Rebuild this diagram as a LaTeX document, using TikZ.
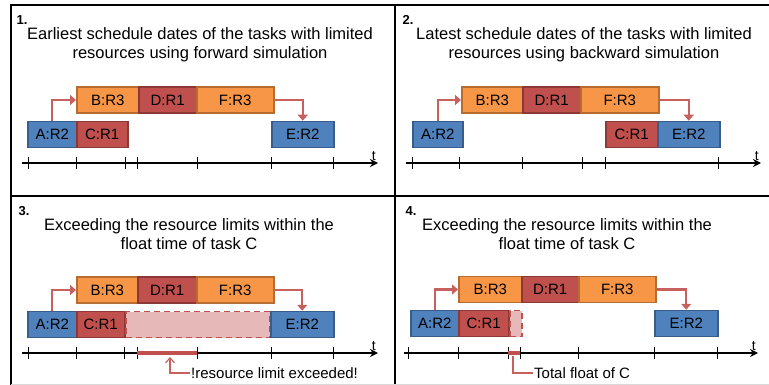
\documentclass[tikz,border=0pt]{standalone}
\usepackage{fontspec}
\setmainfont{Liberation Sans}
\usetikzlibrary{arrows.meta}

\definecolor{taskblue}{HTML}{4F81BD}
\definecolor{taskblueline}{HTML}{385D8A}
\definecolor{taskorange}{HTML}{F79646}
\definecolor{taskorangeline}{HTML}{B66D31}
\definecolor{taskred}{HTML}{C0504D}
\definecolor{taskredline}{HTML}{8C3836}
\definecolor{floatpink}{HTML}{E6B9B8}
\definecolor{linkred}{HTML}{C8605D}

\tikzset{
  task/.style={draw, line width=1.5pt, minimum height=26pt, inner sep=0pt, anchor=west,
    font=\fontsize{15}{17}\selectfont},
  blue task/.style={task, fill=taskblue, draw=taskblueline},
  orange task/.style={task, fill=taskorange, draw=taskorangeline},
  red task/.style={task, fill=taskred, draw=taskredline},
  float task/.style={task, fill=floatpink, draw=taskred, dashed, dash pattern=on 6pt off 4pt},
  link/.style={draw=linkred, line width=2.2pt, -{Triangle[length=6pt,width=10pt]}},
  axis/.style={line width=1.6pt, -{Stealth[length=8pt,width=8pt]}},
  tick/.style={line width=1pt},
  bar/.style={draw=taskred, line width=4.5pt},
  callout/.style={draw=linkred, line width=1.2pt},
  title/.style={align=center, font=\fontsize{16.5}{19}\selectfont},
  num/.style={anchor=west, font=\bfseries\fontsize{13}{15}\selectfont},
  note/.style={anchor=west, inner sep=1pt, font=\fontsize{15}{17}\selectfont},
  tlabel/.style={above left=-2pt, font=\fontsize{14}{16}\selectfont},
  frame/.style={line width=2pt}
}

\begin{document}
\begin{tikzpicture}[x=1pt, y=-1pt]
  \useasboundingbox (0,0) rectangle (769,385);

  % Frame
  \draw[frame] (11,385) -- (11,5) -- (769,5);
  \draw[frame] (395,5) -- (395,385);
  \draw[frame] (11,196) -- (769,196);
  \draw[black!15, line width=1pt] (11,384) -- (769,384);

  % Panel 1
  \node (N1) at (13,20) [num] {1.};
  \node (T1) at (200,44.5) [title] {Earliest schedule dates of the tasks with limited\\resources using forward simulation};
  \node (B1) at (76,100) [orange task, minimum width=62pt] {B:R3};
  \node (D1) at (138,100) [red task, minimum width=58pt] {D:R1};
  \node (F1) at (196,100) [orange task, minimum width=77pt] {F:R3};
  \node (A1) at (27,134.5) [blue task, minimum width=49pt] {A:R2};
  \node (C1) at (76,134.5) [red task, minimum width=51pt] {C:R1};
  \node (E1) at (271,134.5) [blue task, minimum width=62pt] {E:R2};
  \draw[link] (A1.north) |- (B1.west);
  \draw[link] (F1.east) -| (E1.north);
  \coordinate (s1) at (22,163);
  \coordinate (t1) at (378,163);
  \draw[axis] (s1) -- (t1) node[tlabel] {t};
  \foreach \x in {28,76,125,137,197,271,333}
    \draw[tick] (\x,157) -- (\x,169);

  % Panel 2
  \node (N2) at (399,20) [num] {2.};
  \node (T2) at (584,44.5) [title] {Latest schedule dates of the tasks with limited\\resources using backward simulation};
  \node (B2) at (461,100) [orange task, minimum width=61pt] {B:R3};
  \node (D2) at (522,100) [red task, minimum width=58pt] {D:R1};
  \node (F2) at (580,100) [orange task, minimum width=78pt] {F:R3};
  \node (A2) at (412,134.5) [blue task, minimum width=50pt] {A:R2};
  \node (C2) at (605,134.5) [red task, minimum width=52pt] {C:R1};
  \node (E2) at (657,134.5) [blue task, minimum width=62pt] {E:R2};
  \draw[link] (A2.north) |- (B2.west);
  \draw[link] (F2.east) -| (E2.north);
  \coordinate (s2) at (406,163);
  \coordinate (t2) at (761,163);
  \draw[axis] (s2) -- (t2) node[tlabel] {t};
  \foreach \x in {412,459,522,582,605,718}
    \draw[tick] (\x,157) -- (\x,169);

  % Panel 3
  \node (N3) at (15,211) [num] {3.};
  \node (T3) at (189,234.5) [title] {Exceeding the resource limits within the\\float time of task C};
  \node (B3) at (76,290) [orange task, minimum width=61pt] {B:R3};
  \node (D3) at (137,290) [red task, minimum width=59pt] {D:R1};
  \node (F3) at (196,290) [orange task, minimum width=77pt] {F:R3};
  \node (A3) at (27,324.5) [blue task, minimum width=49pt] {A:R2};
  \node (C3) at (76,324.5) [red task, minimum width=48pt] {C:R1};
  \node (P3) at (125,324.5) [float task, minimum width=144pt] {};
  \node (E3) at (270,324.5) [blue task, minimum width=63pt] {E:R2};
  \draw[link] (A3.north) |- (B3.west);
  \draw[link] (F3.east) -| (E3.north);
  \coordinate (s3) at (22,353);
  \coordinate (t3) at (378,353);
  \draw[axis] (s3) -- (t3) node[tlabel] {t};
  \foreach \x in {28,76,124,137,197,271,333}
    \draw[tick] (\x,347) -- (\x,359);
  \coordinate (x3a) at (137,353);
  \coordinate (x3b) at (197,353);
  \draw[bar] (x3a) -- (x3b);
  \coordinate (m3) at (170,357);
  \node (L3) at (190,373) [note] {!resource limit exceeded!};
  \draw[callout, -{Straight Barb[length=5pt,width=9pt]}] (L3.west) -| (m3);

  % Panel 4
  \node (N4) at (402,211) [num] {4.};
  \node (T4) at (567,234) [title] {Exceeding the resource limits within the\\float time of task C};
  \node (B4) at (458,289.5) [orange task, minimum width=63pt] {B:R3};
  \node (D4) at (521,289.5) [red task, minimum width=57pt] {D:R1};
  \node (F4) at (578,289.5) [orange task, minimum width=77pt] {F:R3};
  \node (A4) at (410,323.5) [blue task, minimum width=48pt] {A:R2};
  \node (C4) at (458,323.5) [red task, minimum width=50pt] {C:R1};
  \node (P4) at (509,323.5) [float task, minimum width=12pt] {};
  \node (E4) at (654,323.5) [blue task, minimum width=63pt] {E:R2};
  \draw[link] (A4.north) |- (B4.west);
  \draw[link] (F4.east) -| (E4.north);
  \coordinate (s4) at (404,353);
  \coordinate (t4) at (758,353);
  \draw[axis] (s4) -- (t4) node[tlabel] {t};
  \foreach \x in {408,458,508,520,578,654,717}
    \draw[tick] (\x,347) -- (\x,359);
  \coordinate (x4a) at (508,353);
  \coordinate (x4b) at (520,353);
  \draw[bar] (x4a) -- (x4b);
  \coordinate (m4) at (513,356);
  \node (L4) at (533,373) [note] {Total float of C};
  \draw[callout] (L4.west) -| (m4);
\end{tikzpicture}
\end{document}
